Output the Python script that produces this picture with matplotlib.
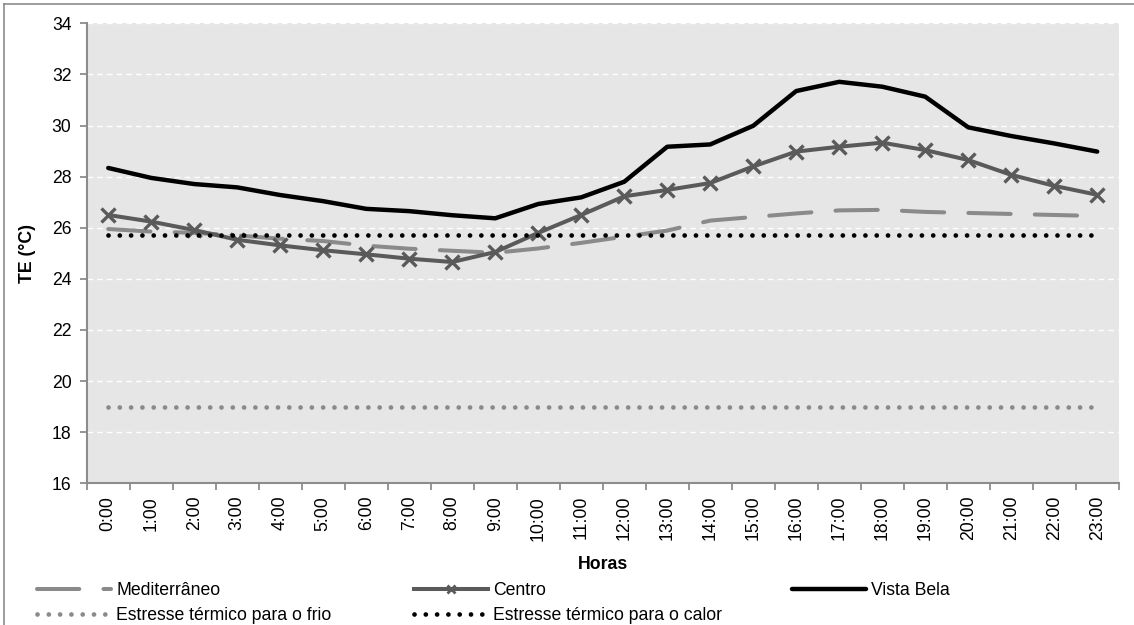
import matplotlib
matplotlib.use('Agg')
import matplotlib.pyplot as plt
from matplotlib.lines import Line2D
import numpy as np

plt.rcParams['font.family'] = ['Liberation Sans', 'DejaVu Sans']

# --- data ---
horas = [f"{h}:00" for h in range(24)]
mediterraneo = [25.95, 25.85, 25.8, 25.7, 25.57, 25.48, 25.3, 25.18, 25.1, 25.02,
                25.19, 25.41, 25.65, 25.89, 26.28, 26.42, 26.56, 26.68, 26.7, 26.62,
                26.58, 26.54, 26.5, 26.46]
centro = [26.5, 26.24, 25.91, 25.53, 25.31, 25.12, 24.96, 24.79, 24.66, 25.05,
          25.8, 26.5, 27.23, 27.48, 27.75, 28.4, 28.98, 29.17, 29.33, 29.04,
          28.65, 28.07, 27.64, 27.29]
vista_bela = [28.34, 27.95, 27.71, 27.58, 27.28, 27.04, 26.74, 26.65, 26.49, 26.37,
              26.93, 27.19, 27.8, 29.17, 29.26, 29.99, 31.35, 31.71, 31.52, 31.13,
              29.93, 29.59, 29.3, 28.98]
estresse_frio = [19.0, 19.0, 19.0, 19.0, 19.0, 19.0, 19.0, 19.0, 19.0, 19.0, 19.0, 19.0,
                 19.0, 19.0, 19.0, 19.0, 19.0, 19.0, 19.0, 19.0, 19.0, 19.0, 19.0, 19.0]
estresse_calor = [25.7, 25.7, 25.7, 25.7, 25.7, 25.7, 25.7, 25.7, 25.7, 25.7, 25.7, 25.7,
                  25.7, 25.7, 25.7, 25.7, 25.7, 25.7, 25.7, 25.7, 25.7, 25.7, 25.7, 25.7]
y_ticks = [16, 18, 20, 22, 24, 26, 28, 30, 32, 34]

MED_GRAY, CENTRO_GRAY, SPINE_GRAY, BG_GRAY = "#8a8a8a", "#5a5a5a", "#8c8c8c", "#e6e6e6"
FS = 12.7
DOT_LW = 3.4

fig = plt.figure(figsize=(11.34, 6.25), dpi=100, facecolor="white")
ax = fig.add_axes([0.0765, 0.2267, 0.91, 0.736])
ax.set_facecolor(BG_GRAY)

x = np.arange(len(horas))
med_line, = ax.plot(x, mediterraneo, color=MED_GRAY, lw=2.9, dashes=(10.5, 6), dash_capstyle='round',
                    solid_capstyle='round', label="Mediterrâneo", zorder=3)
ax.plot(x, centro, color=CENTRO_GRAY, lw=2.9, marker='x', markersize=10,
        markeredgewidth=2.4, zorder=4)
vb_line, = ax.plot(x, vista_bela, color="black", lw=3.2, label="Vista Bela", zorder=5,
                   solid_capstyle='round')
frio_line, = ax.plot(x, estresse_frio, color=MED_GRAY, lw=DOT_LW, dashes=(0.01, 8.1 / DOT_LW),
                     dash_capstyle='round', label="Estresse térmico para o frio", zorder=6)
calor_line, = ax.plot(x, estresse_calor, color="black", lw=DOT_LW, dashes=(0.01, 8.1 / DOT_LW),
                      dash_capstyle='round', label="Estresse térmico para o calor", zorder=7)
# legend proxy for Centro, with the small cross used in the original legend
centro_proxy = Line2D([], [], color=CENTRO_GRAY, lw=2.9, marker='x', markersize=6,
                      markeredgewidth=2.0, label="Centro")

ax.set_xlim(-0.5, len(horas) - 0.5)
ax.set_ylim(16, 34)
ax.set_yticks(y_ticks)
ax.set_xticks(x)
ax.set_xticklabels(horas, rotation=90, fontsize=FS)
ax.set_xticks(np.arange(-0.5, len(horas)), minor=True)
ax.tick_params(axis='x', which='major', length=0, pad=9, colors='black')
ax.tick_params(axis='x', which='minor', length=5, width=1.3, color=SPINE_GRAY, direction='out')
ax.tick_params(axis='y', length=5, width=1.3, color=SPINE_GRAY, labelsize=FS, pad=6)

ax.grid(True, axis='y', color='white', linestyle=(0, (4, 3)), linewidth=1.0)
ax.set_axisbelow(True)
for s in ['top', 'right']:
    ax.spines[s].set_visible(False)
for s in ['left', 'bottom']:
    ax.spines[s].set_color(SPINE_GRAY)
    ax.spines[s].set_linewidth(1.5)

ax.set_xlabel("Horas", fontsize=FS, fontweight='bold')
ax.xaxis.set_label_coords(0.5, -0.158)
ax.set_ylabel("TE (°C)", fontsize=FS, fontweight='bold')
ax.yaxis.set_label_coords(-0.049, 0.5)

# legend: three columns placed like the original
leg_kw = dict(loc='upper left', frameon=False, fontsize=FS, borderpad=0, borderaxespad=0,
              handlelength=4.2, handletextpad=0.3, labelspacing=0.45)
columns = [([med_line, frio_line], 37), ([centro_proxy, calor_line], 414), ([vb_line], 792)]
for handles, xpx in columns:
    fig.legend(handles=handles, bbox_to_anchor=(xpx / 1134, 1 - 582 / 625), **leg_kw)

# outer frame (left and top edges only, as cropped in the reference)
fig.add_artist(Line2D([4 / 1134, 4 / 1134], [0, 1 - 4 / 625], color=SPINE_GRAY, lw=1.2,
                      transform=fig.transFigure))
fig.add_artist(Line2D([4 / 1134, 1], [1 - 4 / 625, 1 - 4 / 625], color=SPINE_GRAY, lw=1.2,
                      transform=fig.transFigure))

fig.savefig("out.png", dpi=100, facecolor=fig.get_facecolor())
plt.close(fig)
